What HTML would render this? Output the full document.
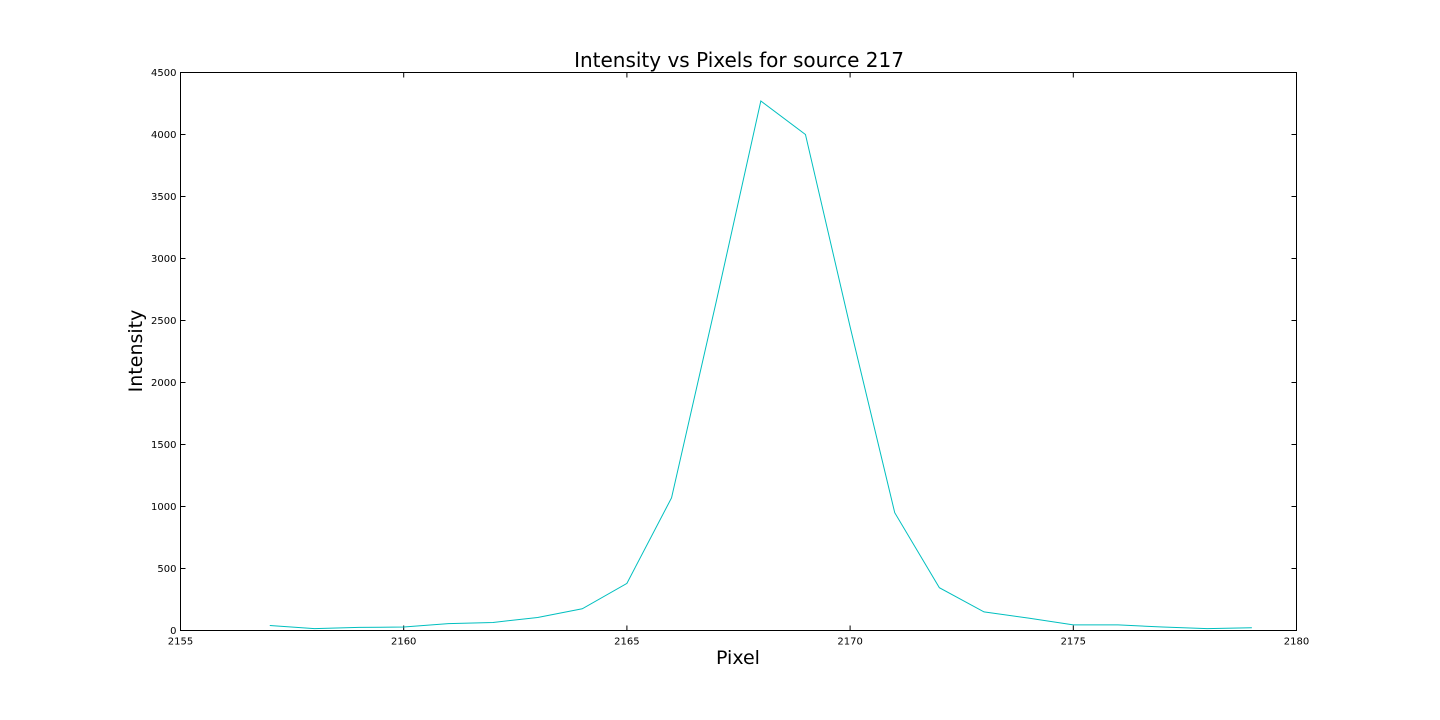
<!DOCTYPE html>
<html><head><meta charset="utf-8"><style>
body{margin:0;background:#fff;}
svg{display:block;font-family:"DejaVu Sans","Liberation Sans",sans-serif;}
</style></head><body>
<svg id="chart" width="1440" height="720" xmlns="http://www.w3.org/2000/svg">
<text x="739" y="67" text-anchor="middle" font-size="20">Intensity vs Pixels for source 217</text>
<text x="738" y="664" text-anchor="middle" font-size="19">Pixel</text>
<text transform="translate(142,351) rotate(-90)" text-anchor="middle" font-size="19">Intensity</text>
<g id="ticks"></g>
<polyline id="series" fill="none" stroke="#00bfbf" stroke-width="1"/>
<rect x="180.5" y="72.5" width="1116" height="558" fill="none" stroke="#000" stroke-width="1"/>
</svg>
<script>
const pixels=[2157,2158,2159,2160,2161,2162,2163,2164,2165,2166,2167,2168,2169,2170,2171,2172,2173,2174,2175,2176,2177,2178,2179];
const intensity=[40,15,25,28,55,65,105,175,380,1070,2650,4270,4000,2450,950,345,150,100,45,45,28,15,22];
const xTicks=[2155,2160,2165,2170,2175,2180];
const yTicks=[0,500,1000,1500,2000,2500,3000,3500,4000,4500];
const X0=180.5,X1=1296.5,Y0=630.5,Y1=72.5;
function xs(v){return X0+(v-2155)/25*(X1-X0);}
function ys(v){return Y0-v/4500*(Y0-Y1);}
const NS="http://www.w3.org/2000/svg";
const g=document.getElementById('ticks');
function line(x1,y1,x2,y2){const l=document.createElementNS(NS,'line');l.setAttribute('x1',x1);l.setAttribute('y1',y1);l.setAttribute('x2',x2);l.setAttribute('y2',y2);l.setAttribute('stroke','#000');


g.appendChild(l);}
function text(x,y,s,anchor){const t=document.createElementNS(NS,'text');t.setAttribute('x',x);t.setAttribute('y',y);t.setAttribute('text-anchor',anchor);t.setAttribute('font-size','10');t.textContent=s;


g.appendChild(t);}
xTicks.forEach(v=>{const x=xs(v);line(x,Y0,x,Y0-5);line(x,Y1,x,Y1+5);text(x,Y0+14,v,'middle');});
yTicks.forEach(v=>{const y=ys(v);line(X0,y,X0+5,y);line(X1,y,X1-5,y);text(X0-4,y+3.5,v,'end');});
document.getElementById('series').setAttribute('points',pixels.map((p,i)=>xs(p)+','+ys(intensity[i])).join(' '));
</script>
</body></html>
